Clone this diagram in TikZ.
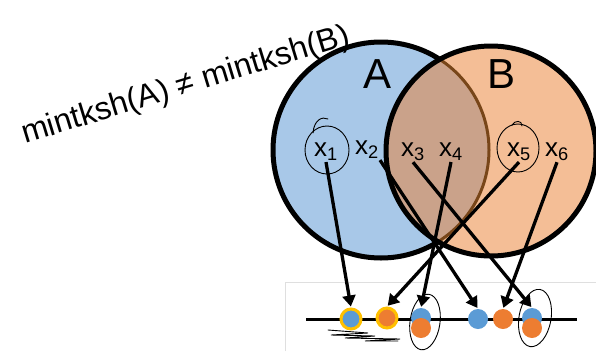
\documentclass[tikz,border=0pt]{standalone}
\usepackage{fontspec}
\setmainfont{Liberation Sans}
\usetikzlibrary{arrows.meta,positioning,shapes.geometric}
\definecolor{setblue}{RGB}{168,200,232}
\definecolor{setpeach}{RGB}{244,190,150}
\definecolor{setmix}{RGB}{202,162,138}
\definecolor{edgebrown}{RGB}{120,70,25}
\definecolor{dotblue}{RGB}{91,155,213}
\definecolor{dotorange}{RGB}{237,125,49}
\definecolor{ringgold}{RGB}{255,192,0}

\begin{document}
\begin{tikzpicture}[x=1pt,y=-1pt,
    elem/.style={font=\fontsize{26}{28}\selectfont,inner sep=1pt},
    hashdot/.style={circle,minimum size=20pt,inner sep=0pt},
    maparrow/.style={line width=3.3pt,-{Triangle[length=11pt,width=13pt]},shorten >=1pt},
    pen/.style={line width=0.9pt,line cap=round}]
        \useasboundingbox (0,0) rectangle (596,351);
        % the two sets
        \fill[setblue] (381,150) circle (108);
        \draw[line width=5pt] (381,150) circle (108);
        \fill[setpeach] (491,151) circle (105);
        \begin{scope}
          \clip (381,150) circle (108);
          \fill[setmix] (491,151) circle (105);
        \end{scope}
        \begin{scope}
          \clip (491,151) circle (105);
          \draw[edgebrown,line width=3pt] (381,150) circle (108);
        \end{scope}
        \draw[line width=5pt] (491,151) circle (105);
        \node[font=\fontsize{42}{44}\selectfont] (labA) at (378,74) {A};
        \node[font=\fontsize{42}{44}\selectfont] (labB) at (501,74) {B};
        % elements
        \node[elem] (x1) at (326,152) {x\textsubscript{1}};
        \node[elem] (x2) at (367,150) {x\textsubscript{2}};
        \node[elem] (x3) at (413,152) {x\textsubscript{3}};
        \node[elem] (x4) at (451,152) {x\textsubscript{4}};
        \node[elem] (x5) at (519,152) {x\textsubscript{5}};
        \node[elem] (x6) at (557,152) {x\textsubscript{6}};
        % hash line
        \draw[gray!25,line width=0.8pt] (285,351) -- (285,282) -- (596,282);
        \coordinate (lineL) at (306,319);
        \coordinate (lineR) at (577,319);
        \draw[line width=3pt] (lineL) -- (lineR);
        \node[hashdot,fill=dotblue,draw=ringgold,line width=3pt] (d1) at (351,319) {};
        \node[hashdot,fill=dotorange,draw=ringgold,line width=3pt] (d2) at (387,318) {};
        \node[hashdot,fill=dotblue] (d3b) at (421,318) {};
        \node[hashdot,fill=dotorange] (d3o) at (421,328) {};
        \node[hashdot,fill=dotblue] (d4) at (478,319) {};
        \node[hashdot,fill=dotorange] (d5) at (503,319) {};
        \node[hashdot,fill=dotblue] (d6b) at (532,318) {};
        \node[hashdot,fill=dotorange] (d6o) at (532,328) {};
        % mapping
        \draw[maparrow] (x1.south) -- (d1.north);
        \draw[maparrow] (x2.south east) -- (d4.north);
        \draw[maparrow] (x3.south) -- (d6b.north);
        \draw[maparrow] (x4.south) -- (d3b.north);
        \draw[maparrow] (x5.south) -- (d2.north);
        \draw[maparrow] (x6.south) -- (d5.north);
        % handwriting
        \node[font=\fontsize{32}{34}\selectfont,rotate=17] (note) at (186,86) {mintksh(A) ≠ mintksh(B)};
        \draw[pen] (327,150) ellipse (22 and 24);
        \draw[pen] (313,133) .. controls (314,120) and (322,116) .. (328,119);
        \draw[pen] (518,148) ellipse (21 and 24);
        \draw[pen] (512,125) .. controls (515,120) and (522,120) .. (522,126);
        \draw[pen,rotate around={-8:(425,322)}] (425,322) ellipse (15 and 28);
        \draw[pen,rotate around={-10:(535,318)}] (535,318) ellipse (16 and 29);
        \draw[pen] (328,330) -- (368,333) -- (331,335) -- (375,336) -- (345,338) -- (400,339) -- (365,341) -- (398,341);
\end{tikzpicture}
\end{document}
